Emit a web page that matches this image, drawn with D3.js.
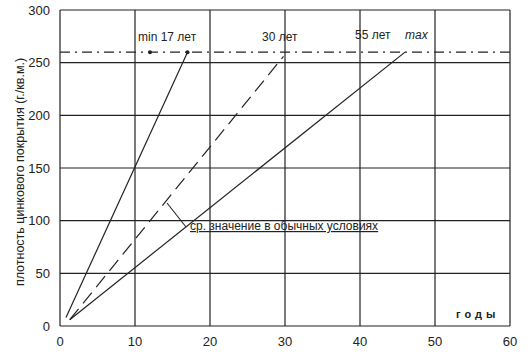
<!DOCTYPE html>
<html>
<head>
<meta charset="utf-8">
<script src="https://cdn.jsdelivr.net/npm/d3@7"></script>
<style>
  body { margin: 0; background: #fff; }
  svg { display: block; font-family: "Liberation Sans", Arial, sans-serif; }
</style>
</head>
<body>
<svg id="chart"></svg>
<script>
// ---- data ----
const xTicks = [0, 10, 20, 30, 40, 50, 60];
const yTicks = [0, 50, 100, 150, 200, 250, 300];
const minLine = [[0.8, 8], [17, 260]];
const avgLine = [[1.3, 6], [29.8, 256]];
const maxLine = [[1.3, 6], [46, 260]];
const limitValue = 260;
const limitDots = [[12, 260], [17, 260]];

const width = 530, height = 352;
const margin = { top: 10, right: 20, bottom: 26, left: 60 };

const svg = d3.select("#chart").attr("width", width).attr("height", height);

const x = d3.scaleLinear().domain([0, 60]).range([margin.left, width - margin.right]);
const y = d3.scaleLinear().domain([0, 300]).range([height - margin.bottom, margin.top]);

const ink = "#222";

// grid
svg.append("g").selectAll("line.v").data(xTicks).join("line")
  .attr("x1", d => x(d)).attr("x2", d => x(d))
  .attr("y1", y(0)).attr("y2", y(300))
  .attr("stroke", ink).attr("stroke-width", 1.2);

svg.append("g").selectAll("line.h").data(yTicks).join("line")
  .attr("x1", x(0)).attr("x2", x(60))
  .attr("y1", d => y(d)).attr("y2", d => y(d))
  .attr("stroke", ink).attr("stroke-width", 1.2);

// tick labels
svg.append("g").selectAll("text").data(yTicks).join("text")
  .attr("x", 50).attr("y", d => y(d)).attr("dy", "0.35em")
  .attr("text-anchor", "end").attr("font-size", 13).attr("fill", ink)
  .text(d => d);

svg.append("g").selectAll("text").data(xTicks).join("text")
  .attr("x", d => x(d)).attr("y", 346)
  .attr("text-anchor", "middle").attr("font-size", 13).attr("fill", ink)
  .text(d => d);

// limit line at 260
svg.append("line")
  .attr("x1", x(0)).attr("x2", x(60))
  .attr("y1", y(limitValue)).attr("y2", y(limitValue))
  .attr("stroke", ink).attr("stroke-width", 1.2)
  .attr("stroke-dasharray", "10,5,2,5");

const line = d3.line().x(d => x(d[0])).y(d => y(d[1]));

svg.append("path").datum(minLine).attr("d", line)
  .attr("fill", "none").attr("stroke", ink).attr("stroke-width", 1.2);
svg.append("path").datum(avgLine).attr("d", line)
  .attr("fill", "none").attr("stroke", ink).attr("stroke-width", 1.2)
  .attr("stroke-dasharray", "14,7");
svg.append("path").datum(maxLine).attr("d", line)
  .attr("fill", "none").attr("stroke", ink).attr("stroke-width", 1.2);

svg.append("g").selectAll("circle").data(limitDots).join("circle")
  .attr("cx", d => x(d[0])).attr("cy", d => y(d[1])).attr("r", 2)
  .attr("fill", ink);

// labels
svg.append("text").attr("x", 138).attr("y", 41).attr("font-size", 12).attr("fill", ink)
  .text("min 17 лет");
svg.append("text").attr("x", 262).attr("y", 41).attr("font-size", 12).attr("fill", ink)
  .text("30 лет");
svg.append("text").attr("x", 355).attr("y", 39).attr("font-size", 12).attr("fill", ink)
  .text("55 лет");
svg.append("text").attr("x", 405).attr("y", 39).attr("font-size", 12).attr("fill", ink)
  .attr("font-style", "italic").text("max");

// annotation
svg.append("line").attr("x1", 167).attr("y1", 203).attr("x2", 186).attr("y2", 227)
  .attr("stroke", ink).attr("stroke-width", 1.1);
svg.append("text").attr("x", 190).attr("y", 230).attr("font-size", 12).attr("fill", ink)
  .attr("text-decoration", "underline")
  .text("ср. значение в обычных условиях");

// axis titles
svg.append("text").attr("x", 456).attr("y", 318).attr("font-size", 11)
  .attr("font-weight", "bold").attr("letter-spacing", "4px").attr("fill", ink)
  .text("годы");
svg.append("text")
  .attr("transform", "translate(24,172) rotate(-90)")
  .attr("text-anchor", "middle").attr("font-size", 12.5).attr("fill", ink)
  .text("плотность цинкового покрытия (г./кв.м.)");
</script>
</body>
</html>
